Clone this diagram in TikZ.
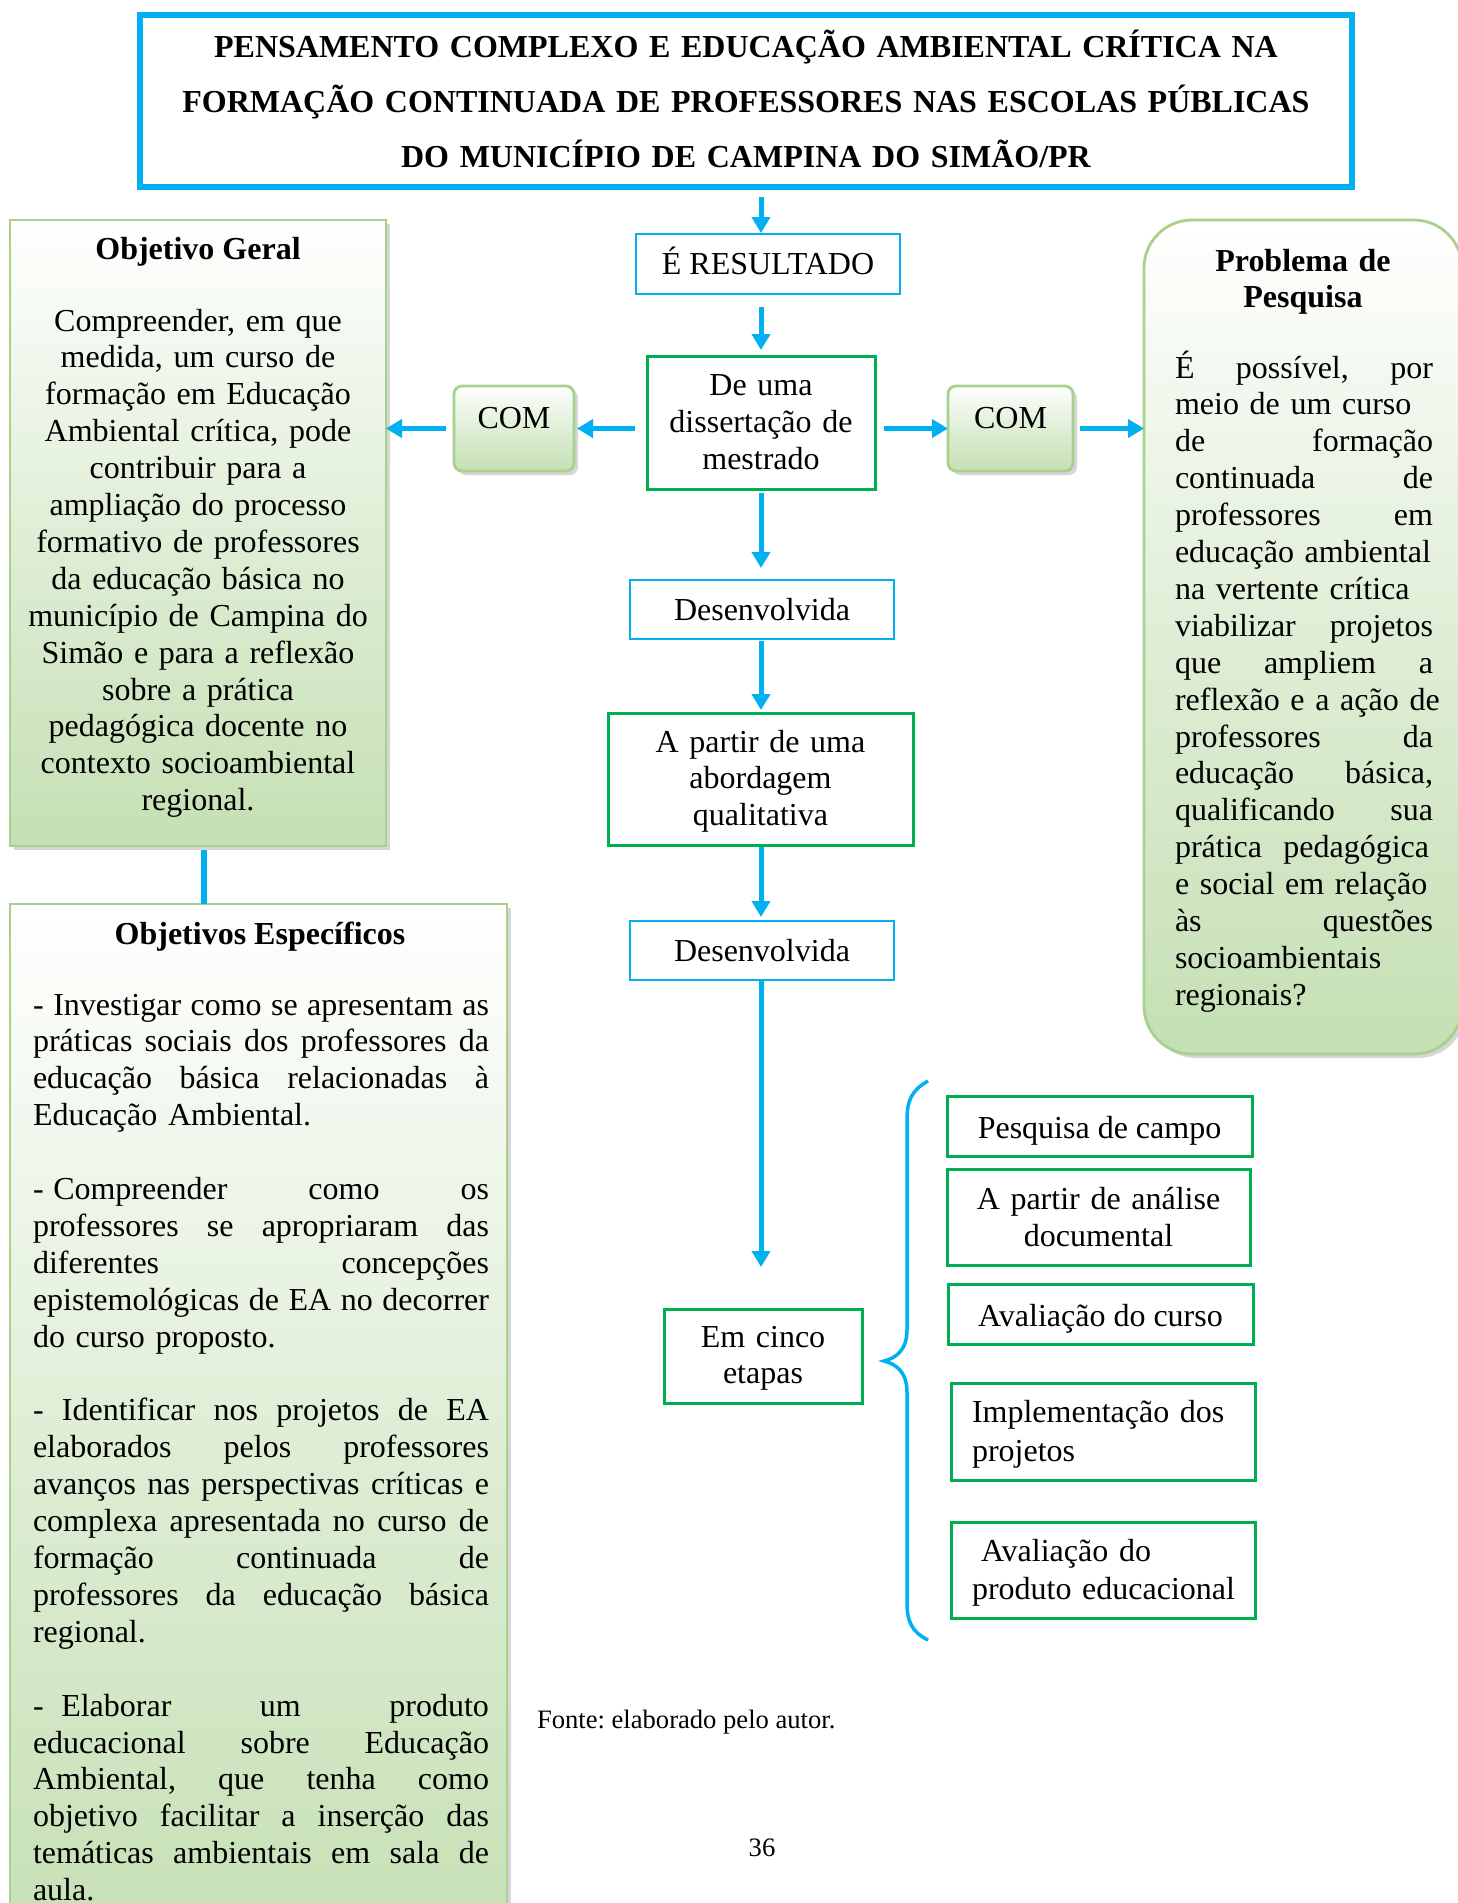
\documentclass[tikz,border=0pt]{standalone}
\usepackage{fontspec}
\setmainfont{Liberation Serif}
\usetikzlibrary{arrows.meta,shadows,calc}
\definecolor{cyanb}{RGB}{0,176,240}
\definecolor{greenb}{RGB}{0,176,80}
\definecolor{lgborder}{RGB}{169,209,142}
\definecolor{lgfill}{RGB}{197,224,180}
\newcommand\jE[1]{\leavevmode\hbox to 228pt{\spaceskip=0.25em plus 1fil\relax #1}}
\newcommand\jP[1]{\leavevmode\hbox to 129pt{\spaceskip=0.25em plus 1fil\relax #1}}
\frenchspacing
\tikzset{
  arr/.style={draw=cyanb, line width=2.5pt, -{Triangle[length=8pt,width=9pt]}},
  cyanbox/.style={draw=cyanb, line width=1.35pt},
  greenbox/.style={draw=greenb, line width=1.5pt},
  softbox/.style={draw=lgborder, line width=1.4pt, top color=white, bottom color=lgfill,
    middle color=lgfill!55!white,
    drop shadow={shadow xshift=2pt, shadow yshift=-2pt, fill=black!45, opacity=0.35}},
  onel/.style={text height=10.6pt, text depth=0pt},
  onelq/.style={text height=12.5pt, text depth=0pt},
}
\begin{document}
\frenchspacing
\begin{tikzpicture}[x=0.5pt,y=-0.5pt,
  every node/.style={outer sep=0pt, inner sep=0pt, font=\fontsize{16pt}{18.45pt}\selectfont}]
\useasboundingbox (0,0) rectangle (1458,1903);
\fill[white] (0,0) rectangle (1458,1903);
\clip (0,0) rectangle (1458,1903);

% title
\node[draw=cyanb, line width=2.75pt, minimum width=606pt, minimum height=86pt] (title) at (746,101) {};
\node[anchor=base, text width=600pt, align=center, font=\bfseries\fontsize{16pt}{27.5pt}\selectfont] (ttl) at (746,57)
  {PENSAMENTO COMPLEXO E EDUCAÇÃO AMBIENTAL CRÍTICA NA\\
   FORMAÇÃO CONTINUADA DE PROFESSORES NAS ESCOLAS PÚBLICAS\\
   DO MUNICÍPIO DE CAMPINA DO SIMÃO/PR};

% soft green boxes
\node[softbox, minimum width=188pt, minimum height=313pt] (objg) at (198,533) {};
\node[softbox, minimum width=248.5pt, minimum height=528pt] (obje) at (258.5,1432) {};
\node[softbox, rounded corners=24pt, minimum width=159pt, minimum height=417pt] (pp) at (1303,637) {};
\node[softbox, rounded corners=4pt, minimum width=60pt, minimum height=42.5pt] (comL) at (514,428.5) {};
\node[softbox, rounded corners=4pt, minimum width=62.5pt, minimum height=42.5pt] (comR) at (1010.5,428.5) {};
\node[anchor=base] (comLt) at (514,428) {COM};
\node[anchor=base] (comRt) at (1010.5,428) {COM};

% texts in soft boxes
\node[anchor=base, font=\bfseries\fontsize{16pt}{18.45pt}\selectfont] (objgh) at (198,259) {Objetivo Geral};
\node[anchor=base, text width=180pt, align=center] (objgt) at (198,331)
  {Compreender, em que\\
   medida, um curso de\\
   formação em Educação\\
   Ambiental crítica, pode\\
   contribuir para a\\
   ampliação do processo\\
   formativo de professores\\
   da educação básica no\\
   município de Campina do\\
   Simão e para a reflexão\\
   sobre a prática\\
   pedagógica docente no\\
   contexto socioambiental\\
   regional.};

\node[anchor=base, font=\bfseries\fontsize{16pt}{18.45pt}\selectfont] (objeh) at (260,944) {Objetivos Específicos};
\node[anchor=base west, text width=234pt, align=left] (objet) at (33,1015)
  {\jE{-\hspace{0.3em}Investigar como se apresentam as}\\
   \jE{práticas sociais dos professores da}\\
   \jE{educação básica relacionadas à}\\
   Educação Ambiental.\\[18.45pt]
   \jE{-\hspace{0.3em}Compreender como os}\\
   \jE{professores se apropriaram das}\\
   \jE{diferentes concepções}\\
   \jE{epistemológicas de EA no decorrer}\\
   do curso proposto.\\[18.45pt]
   \jE{- Identificar nos projetos de EA}\\
   \jE{elaborados pelos professores}\\
   \jE{avanços nas perspectivas críticas e}\\
   \jE{complexa apresentada no curso de}\\
   \jE{formação continuada de}\\
   \jE{professores da educação básica}\\
   regional.\\[18.45pt]
   \jE{-\hspace{0.55em}Elaborar um produto}\\
   \jE{educacional sobre Educação}\\
   \jE{Ambiental, que tenha como}\\
   \jE{objetivo facilitar a inserção das}\\
   \jE{temáticas ambientais em sala de}\\
   aula.};

\node[anchor=base, text width=140pt, align=center, font=\bfseries\fontsize{16pt}{18pt}\selectfont] (pph) at (1303,271)
  {Problema de\\Pesquisa};
\node[anchor=base west, text width=140pt, align=left] (ppt) at (1175,378)
  {\jP{É possível, por}\\
   meio de um curso\\
   \jP{de formação}\\
   \jP{continuada de}\\
   \jP{professores em}\\
   educação ambiental\\
   na vertente crítica\\
   \jP{viabilizar projetos}\\
   \jP{que ampliem a}\\
   reflexão e a ação de\\
   \jP{professores da}\\
   \jP{educação básica,}\\
   \jP{qualificando sua}\\
   prática\ \ pedagógica\\
   e social em relação\\
   \jP{às questões}\\
   socioambientais\\
   regionais?};

% central column
\node[cyanbox, onel, minimum width=132pt, minimum height=30pt] (eres) at (768,264) {É RESULTADO};
\node[greenbox, minimum width=114pt, minimum height=66.5pt, text width=110pt, align=center] (dis) at (761,422.5)
  {De uma\\dissertação de\\mestrado};
\node[cyanbox, onel, minimum width=132pt, minimum height=29.5pt] (des1) at (762,609.5) {Desenvolvida};
\node[greenbox, minimum width=152.5pt, minimum height=66pt, text width=148pt, align=center] (apu) at (760.5,779) {};
\node[anchor=base, text width=148pt, align=center] (aput) at (760.5,752)
  {A partir de uma\\abordagem\\qualitativa};
\node[cyanbox, onel, minimum width=132pt, minimum height=29.5pt] (des2) at (762,950.5) {Desenvolvida};
\node[greenbox, minimum width=99pt, minimum height=47pt] (ece) at (763,1356) {};
\node[anchor=base, text width=95pt, align=center] (ecet) at (763,1347)
  {Em cinco\\etapas};

% steps
\node[greenbox, onelq, minimum width=152.5pt, minimum height=30pt] (s1) at (1099.5,1126) {Pesquisa de campo};
\node[greenbox, minimum width=151.5pt, minimum height=48pt, text width=148pt, align=center] (s2) at (1098.5,1217)
  {A partir de análise\\documental};
\node[greenbox, onelq, minimum width=152.5pt, minimum height=30pt] (s3) at (1100.5,1314) {Avaliação do curso};
\node[greenbox, minimum width=152pt, minimum height=48.5pt] (s4) at (1103,1431.5) {};
\node[anchor=base west, text width=150pt, align=left, font=\fontsize{16pt}{19.6pt}\selectfont] (s4t) at (972,1422)
  {Implementação dos\\projetos};
\node[greenbox, minimum width=152pt, minimum height=48pt] (s5) at (1103,1570) {};
\node[anchor=base west, text width=150pt, align=left, font=\fontsize{16pt}{19pt}\selectfont] (s5t) at (972,1561)
  {\hspace*{4.5pt}Avaliação do\\produto educacional};

% brace
\draw[cyanb, line width=1.75pt] (928,1081) .. controls (912,1090) and (907,1100) .. (907,1120) -- (907,1330)
  .. controls (907,1350) and (896,1358) .. (884,1361)
  .. controls (896,1364) and (907,1372) .. (907,1392) -- (907,1602)
  .. controls (907,1622) and (912,1632) .. (928,1640);

% arrows
\draw[arr, shorten <=5pt, shorten >=0.5pt] (title.south -| dis) -- (eres.north -| dis);
\draw[arr, shorten <=6.5pt, shorten >=3pt] (eres.south -| dis) -- (dis.north);
\draw[arr, shorten <=2pt, shorten >=6pt] (dis.south) -- (des1.north -| dis);
\draw[arr, shorten <=1pt, shorten >=1.5pt] (des1.south -| dis) -- (apu.north -| dis);
\draw[arr, shorten <=1pt, shorten >=2pt] (apu.south -| dis) -- (des2.north -| dis);
\draw[arr, shorten <=0.5pt, shorten >=21pt] (des2.south -| dis) -- (ece.north -| dis);
\draw[arr, shorten <=6pt, shorten >=1.5pt] (dis.west |- comL) -- (comL.east);
\draw[arr, shorten <=4pt] (comL.west) -- (objg.east |- comL);
\draw[arr, shorten <=4.5pt] (dis.east |- comR) -- (comR.west);
\draw[arr, shorten <=3.5pt] (comR.east) -- (pp.west |- comR);
\coordinate (vx) at (204,0);
\draw[cyanb, line width=3pt, shorten <=2pt] (vx |- objg.south) -- (vx |- obje.north);

% footer
\node[anchor=west, font=\fontsize{13.3pt}{15.3pt}\selectfont] (fonte) at (537,1722) {Fonte: elaborado pelo autor.};
\node[font=\fontsize{13.3pt}{15.3pt}\selectfont] (pg) at (762,1848) {36};
\end{tikzpicture}
\end{document}
